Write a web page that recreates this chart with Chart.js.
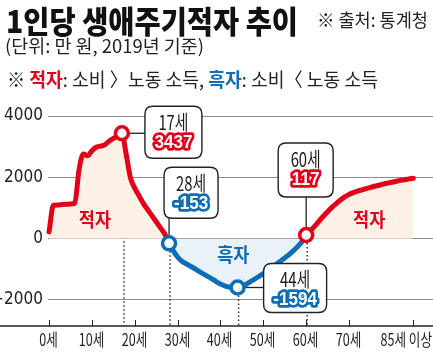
<!DOCTYPE html>
<html><head><meta charset="utf-8">
<script src="https://cdn.jsdelivr.net/npm/chart.js@4/dist/chart.umd.min.js"></script>
<style>html,body{margin:0;padding:0;background:#fff;}canvas{display:block;}</style>
</head><body>
<canvas id="c" width="433" height="354"></canvas>
<script>
// ---- data ----
const ages = [0,1,2,3,4,5,6,7,8,9,10,11,12,13,14,15,16,17,18,19,20,21,22,23,24,25,26,27,28,29,30,31,32,33,34,35,36,37,38,39,40,41,42,43,44,45,46,47,48,49,50,51,52,53,54,55,56,57,58,59,60,61,62,63,64,65,66,67,68,69,70,71,72,73,74,75,76,77,78,79,80,81,82,83,84,85];
const deficit = [220,1090,1100,1110,1120,1130,1160,2250,2760,2700,2870,2980,3020,3060,3180,3270,3350,3437,2750,1980,1650,1400,1150,950,750,550,350,150,-153,-400,-600,-740,-820,-900,-980,-1070,-1150,-1230,-1310,-1400,-1480,-1540,-1580,-1600,-1594,-1560,-1490,-1400,-1320,-1230,-1140,-1040,-940,-840,-740,-630,-520,-400,-260,-100,117,260,410,570,730,880,1020,1140,1260,1360,1440,1500,1550,1590,1630,1670,1710,1740,1780,1810,1840,1870,1900,1920,1950,1970];
const xTickValues = [0,10,20,30,40,50,60,70,85];
const xTickLabels = ['0세','10세','20세','30세','40세','50세','60세','70세','85세 이상'];
const yTickValues = [-2000,0,2000,4000];
const highlightAges = [17,28,44,60];
const highlightLabels = ['17세','28세','44세','60세'];

const RED = '#e50019', BLUE = '#0d6db7', PEACH = '#fcf1e4', LBLUE = '#e9f1f9';
const CJK = '"Noto Sans CJK KR", "Noto Sans", sans-serif';
const NARROW = '"Liberation Sans Narrow", "DejaVu Sans Condensed", "Liberation Sans", sans-serif';

function txt(ctx, s, x, y, font, color, sx, align) {
  ctx.save();
  ctx.font = font; ctx.fillStyle = color; ctx.textBaseline = 'middle'; ctx.textAlign = 'left';
  const w = ctx.measureText(s).width * sx;
  const left = align === 'center' ? x - w / 2 : (align === 'right' ? x - w : x);
  ctx.translate(left, y); ctx.scale(sx, 1); ctx.fillText(s, 0, 0);
  ctx.restore();
  return w;
}
function fitTxt(ctx, s, x, y, font, color, width) {
  ctx.save(); ctx.font = font; const sx = width / ctx.measureText(s).width; ctx.restore();
  txt(ctx, s, x, y, font, color, sx, 'left');
}
function outlined(ctx, s, x, y, font, color, sx) {
  ctx.save();
  ctx.font = font; ctx.textBaseline = 'middle'; ctx.textAlign = 'left';
  const w = ctx.measureText(s).width * sx;
  ctx.translate(x - w / 2, y); ctx.scale(sx, 1);
  ctx.lineJoin = 'round'; ctx.lineWidth = 5.5; ctx.strokeStyle = color; ctx.strokeText(s, 0, 0);
  ctx.fillStyle = '#fff'; ctx.fillText(s, 0, 0);
  ctx.restore();
}
function rrect(ctx, x, y, w, h, r) {
  ctx.beginPath();
  ctx.moveTo(x + r, y); ctx.lineTo(x + w - r, y); ctx.quadraticCurveTo(x + w, y, x + w, y + r);
  ctx.lineTo(x + w, y + h - r); ctx.quadraticCurveTo(x + w, y + h, x + w - r, y + h);
  ctx.lineTo(x + r, y + h); ctx.quadraticCurveTo(x, y + h, x, y + h - r);
  ctx.lineTo(x, y + r); ctx.quadraticCurveTo(x, y, x + r, y); ctx.closePath();
}

// callout layout (offsets from marker pixel)
const boxes = {
  17: {dx: 23, dy: -27, w: 57, h: 52, conn: 'h'},
  28: {dx: -5, dy: -76, w: 54, h: 51, conn: 'v'},
  44: {dx: 26, dy: -24, w: 63, h: 49, conn: 'h'},
  60: {dx: -28, dy: -92, w: 55, h: 54, conn: 'v'}
};

const decor = {
  id: 'decor',
  beforeDatasetsDraw(chart) {
    const ctx = chart.ctx, xs = chart.scales.x, ys = chart.scales.y, ca = chart.chartArea;
    ctx.save();
    ctx.strokeStyle = '#333'; ctx.lineWidth = 1.5; ctx.setLineDash([1.5, 2.5]);
    highlightAges.forEach(a => {
      const i = ages.indexOf(a);
      const px = xs.getPixelForValue(a), py = ys.getPixelForValue(deficit[i]);
      const off = a === 17 ? 2 : 1;
      ctx.beginPath(); ctx.moveTo(px + off, py); ctx.lineTo(px + off, ca.bottom); ctx.stroke();
    });
    ctx.restore();
    ctx.save(); ctx.strokeStyle = '#222'; ctx.lineWidth = 1.3;
    highlightAges.forEach(a => {
      const i = ages.indexOf(a), b = boxes[a];
      const px = xs.getPixelForValue(a), py = ys.getPixelForValue(deficit[i]);
      ctx.beginPath();
      if (b.conn === 'h') { ctx.moveTo(px, py); ctx.lineTo(px + b.dx, py); }
      else { ctx.moveTo(px, py); ctx.lineTo(px, py + b.dy + b.h); }
      ctx.stroke();
    });
    ctx.restore();
  },
  afterDatasetsDraw(chart) {
    const ctx = chart.ctx, xs = chart.scales.x, ys = chart.scales.y, ca = chart.chartArea;
    ctx.save();
    ctx.strokeStyle = '#222'; ctx.lineWidth = 1.5;
    ctx.beginPath(); ctx.moveTo(0, ca.bottom); ctx.lineTo(chart.width, ca.bottom); ctx.stroke();
    ctx.lineWidth = 1;
    xTickValues.forEach((v, k) => {
      const px = Math.round(xs.getPixelForValue(v)) + 0.5;
      ctx.beginPath(); ctx.moveTo(px, ca.bottom - 6); ctx.lineTo(px, ca.bottom); ctx.stroke();
      ctx.font = '17px ' + CJK;
      const sx = 0.74;
      const w = ctx.measureText(xTickLabels[k]).width * sx;
      let cx = px - 1;
      if (cx + w / 2 > chart.width - 1) cx = chart.width - 1 - w / 2;
      txt(ctx, xTickLabels[k], cx, ca.bottom + 14, '17px ' + CJK, '#222', sx, 'center');
    });
    ctx.restore();
    highlightAges.forEach((a, k) => {
      const i = ages.indexOf(a), b = boxes[a];
      const px = xs.getPixelForValue(a), py = ys.getPixelForValue(deficit[i]);
      const bx = px + b.dx, by = py + b.dy;
      ctx.save();
      rrect(ctx, bx, by, b.w, b.h, 8);
      ctx.fillStyle = '#fff'; ctx.fill();
      ctx.strokeStyle = '#222'; ctx.lineWidth = 1.4; ctx.stroke();
      ctx.restore();
      txt(ctx, highlightLabels[k], bx + b.w / 2, by + 16, '20px ' + CJK, '#1a1a1a', 0.74, 'center');
      const col = deficit[i] >= 0 ? RED : BLUE;
      outlined(ctx, String(deficit[i]), bx + b.w / 2, by + 37, 'bold 18px "Liberation Sans", Arial, sans-serif', col, 0.95);
    });
    const reg = [['적자', 10.7, 610, RED], ['흑자', 43, -530, BLUE], ['적자', 74.7, 610, RED]];
    reg.forEach(r => {
      txt(ctx, r[0], xs.getPixelForValue(r[1]), ys.getPixelForValue(r[2]), 'bold 19px ' + CJK, r[3], 0.92, 'center');
    });
    fitTxt(ctx, '1인당 생애주기적자 추이', 6, 21, '900 31px ' + CJK, '#111', 292);
    fitTxt(ctx, '※ 출처: 통계청', 317, 20, '18px ' + CJK, '#222', 111);
    fitTxt(ctx, '(단위: 만 원, 2019년 기준)', 5, 46, '18px ' + CJK, '#222', 199);
    const parts = [['※ ', '#222', ''], ['적자', RED, 'bold '], [': 소비 〉노동 소득, ', '#222', ''], ['흑자', BLUE, 'bold '], [': 소비〈 노동 소득', '#222', '']];
    ctx.save();
    let tot = 0;
    parts.forEach(p => { ctx.font = p[2] + '19px ' + CJK; tot += ctx.measureText(p[0]).width; });
    ctx.restore();
    const sx = 371 / tot;
    let x = 7;
    parts.forEach(p => { x += txt(ctx, p[0], x, 80, p[2] + '19px ' + CJK, p[1], sx, 'left'); });
  }
};

const points = ages.map((a, i) => ({x: a, y: deficit[i]}));

new Chart(document.getElementById('c'), {
  type: 'line',
  data: {
    datasets: [{
      data: points,
      borderWidth: 5,
      borderCapStyle: 'round',
      borderJoinStyle: 'round',
      cubicInterpolationMode: 'monotone',
      borderColor: RED,
      segment: { borderColor: c => c.p0.parsed.y >= 0 ? RED : BLUE },
      fill: { target: {value: 0}, above: PEACH, below: LBLUE },
      pointRadius: c => highlightAges.includes(ages[c.dataIndex]) ? 6.5 : 0,
      pointBorderWidth: 3.5,
      pointBackgroundColor: '#fff',
      pointBorderColor: c => deficit[c.dataIndex] >= 0 ? RED : BLUE,
      clip: false
    }]
  },
  options: {
    responsive: false,
    animation: false,
    devicePixelRatio: 1,
    layout: { padding: { top: 116, bottom: 28, left: 0, right: 0 } },
    plugins: { legend: { display: false }, tooltip: { enabled: false }, filler: { propagate: false } },
    scales: {
      x: { type: 'linear', display: false, min: -0.25, max: 89.6 },
      y: {
        min: -2850, max: 4000,
        afterFit: s => { s.width = 48; },
        afterBuildTicks: s => { s.ticks = yTickValues.map(v => ({value: v})); },
        border: { display: false },
        grid: { color: '#8c8c8c', lineWidth: 1, drawTicks: false },
        ticks: {
          padding: 5, color: '#222',
          font: { family: NARROW, size: 17 },
          callback: v => v < 0 ? '\u2212' + Math.abs(v) : String(v)
        }
      }
    }
  },
  plugins: [decor]
});
</script>
</body></html>
